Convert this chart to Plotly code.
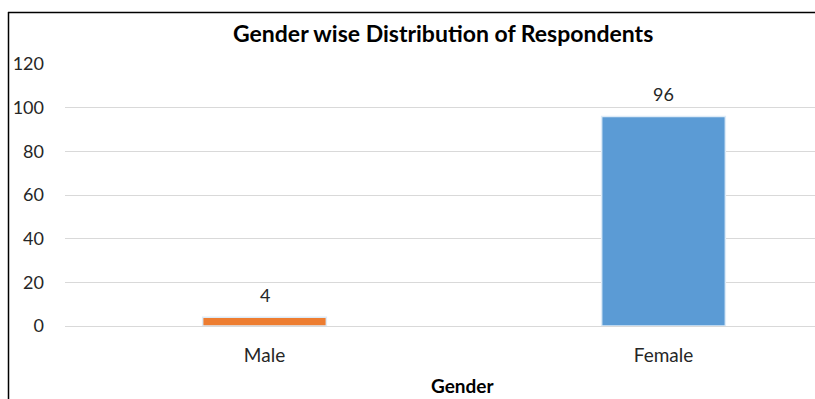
import plotly.graph_objects as go

categories = ["Male", "Female"]
values = [4, 96]
colors = ["#ED7D31", "#5B9BD5"]
y_ticks = [0, 20, 40, 60, 80, 100, 120]

title_text = "Gender wise Distribution of Respondents"
x_title = "Gender"

W, H = 815, 399
L, R, T, B = 65, 0, 64, 73
pw = W - L - R
ph = H - T - B

# full category slot is 399px; the chart is cropped at the right edge
slot = 399.0
x_lo = -0.5
x_hi = x_lo + pw / slot

FONT = "Lato, 'Open Sans', sans-serif"

fig = go.Figure()
fig.add_trace(go.Bar(
    x=categories,
    y=values,
    width=0.31,
    marker=dict(color=colors, line=dict(color="#DDEBF7", width=1.5)),
    cliponaxis=False,
))

def px_to_paper_x(px):
    return (px - L) / pw

def py_to_paper_y(py):
    return (H - B - py) / ph

annotations = [
    dict(x=c, y=v, xref="x", yref="y", text=str(v), showarrow=False,
         yanchor="bottom", yshift=9,
         font=dict(family=FONT, size=18, color="#262626"))
    for c, v in zip(categories, values)
]
annotations += [
    dict(text="<b>" + title_text + "</b>", xref="paper", yref="paper",
         x=px_to_paper_x(443), y=py_to_paper_y(33), xanchor="center", yanchor="middle",
         showarrow=False, font=dict(family=FONT, size=23, color="#000000")),
    dict(text="<b>" + x_title + "</b>", xref="paper", yref="paper",
         x=px_to_paper_x(462), y=py_to_paper_y(385), xanchor="center", yanchor="middle",
         showarrow=False, font=dict(family=FONT, size=19, color="#000000")),
]

fig.update_layout(
    width=W, height=H,
    margin=dict(l=L, r=R, t=T, b=B, pad=0),
    paper_bgcolor="white",
    plot_bgcolor="white",
    showlegend=False,
    bargap=0.69,
    font=dict(family=FONT, color="#404040"),
    xaxis=dict(
        type="category",
        range=[x_lo, x_hi],
        showgrid=False,
        showline=False,
        zeroline=False,
        ticks="",
        ticklabelstandoff=16,
        tickfont=dict(family=FONT, size=19, color="#262626"),
        fixedrange=True,
    ),
    yaxis=dict(
        range=[0, 120],
        tickvals=y_ticks,
        showgrid=True,
        gridcolor="#D9D9D9",
        gridwidth=1,
        zeroline=True,
        zerolinecolor="#D9D9D9",
        zerolinewidth=1,
        showline=False,
        ticks="",
        ticklabelstandoff=20,
        tickfont=dict(family=FONT, size=18, color="#262626"),
        fixedrange=True,
    ),
    shapes=[
        dict(type="line", xref="paper", yref="paper",
             x0=px_to_paper_x(8), x1=px_to_paper_x(830),
             y0=py_to_paper_y(12.5), y1=py_to_paper_y(12.5),
             line=dict(color="black", width=1.5)),
        dict(type="line", xref="paper", yref="paper",
             x0=px_to_paper_x(8.5), x1=px_to_paper_x(8.5),
             y0=py_to_paper_y(12), y1=py_to_paper_y(410),
             line=dict(color="black", width=1.5)),
    ],
    annotations=annotations,
)

fig.write_html("out.html")
